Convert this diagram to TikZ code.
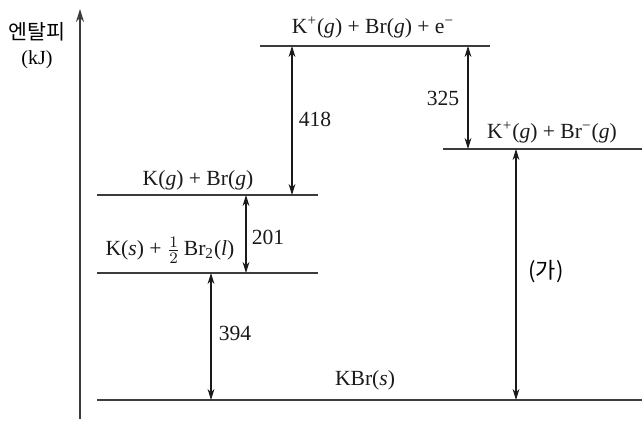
\documentclass[tikz,border=0pt]{standalone}
\usepackage{fontspec}
\setmainfont{Liberation Serif}
\newfontfamily\krfont{Noto Sans CJK KR}
\usetikzlibrary{arrows.meta,positioning}
\definecolor{ink}{HTML}{1A1A1A}
\definecolor{levelgray}{HTML}{3C3C3C}
\tikzset{level/.style={draw=levelgray,line width=0.8pt},
  gap/.style={{Stealth[length=5.5pt,width=3.4pt]}-{Stealth[length=5.5pt,width=3.4pt]},draw=ink,line width=0.55pt},
  species/.style={font=\fontsize{10.8}{13}\selectfont,inner sep=0pt,text=ink},
  value/.style={font=\fontsize{10.8}{13}\selectfont,inner sep=0pt,text=ink}}

\begin{document}
\begin{tikzpicture}[x=0.5pt,y=-0.5pt]
\useasboundingbox (0,0) rectangle (642,421);
% axis
\coordinate (axbot) at (80,419);
\coordinate (axtop) at (80,9);
\draw[draw=levelgray,line width=0.8pt,-{Stealth[length=6.5pt,width=4pt]}] (axbot) -- (axtop);
\node[inner sep=0pt,font=\krfont\fontsize{10.3}{12}\selectfont] (enth) at (37,32) {엔탈피};
\node[inner sep=0pt,font=\fontsize{10}{12}\selectfont,below=4.5pt of enth] (unit) {(kJ)};
% energy levels
\coordinate (ionL) at (260,46);  \coordinate (ionR) at (490,46);
\coordinate (ionsL) at (443,149); \coordinate (ionsR) at (642,149);
\coordinate (gasL) at (97,195);  \coordinate (gasR) at (318,195);
\coordinate (stdL) at (97,273);  \coordinate (stdR) at (318,273);
\coordinate (kbrL) at (97,400);  \coordinate (kbrR) at (642,400);
\draw[level] (ionL) -- (ionR);
\draw[level] (ionsL) -- (ionsR);
\draw[level] (gasL) -- (gasR);
\draw[level] (stdL) -- (stdR);
\draw[level] (kbrL) -- (kbrR);
% species
\node[species] (ion) at (373,28) {K\textsuperscript{+}(\textit{g}) + Br(\textit{g}) + e\textsuperscript{−}};
\node[species] (ions) at (552,133) {K\textsuperscript{+}(\textit{g}) + Br\textsuperscript{−}(\textit{g})};
\node[species] (gas) at (198,180) {K(\textit{g}) + Br(\textit{g})};
\node[species] (std) at (170,250) {K(\textit{s}) + $\frac{1}{2}$\,Br\textsubscript{2}(\textit{l})};
\node[species] (kbr) at (365,380) {KBr(\textit{s})};
% changes
\draw[gap] (211,0 |- stdL) -- (211,0 |- kbrL);
\draw[gap] (246,0 |- gasL) -- (246,0 |- stdL);
\draw[gap] (292,0 |- ionL) -- (292,0 |- gasL);
\draw[gap] (468,0 |- ionL) -- (468,0 |- ionsL);
\draw[gap] (516,0 |- ionsL) -- (516,0 |- kbrL);
\node[value] (v394) at (235,333) {394};
\node[value] (v201) at (268,237) {201};
\node[value] (v418) at (315,119) {418};
\node[value] (v325) at (443,98) {325};
\node[inner sep=0pt,font=\krfont\fontsize{11}{13}\selectfont] (ga) at (546,272) {(가)};
\end{tikzpicture}
\end{document}
